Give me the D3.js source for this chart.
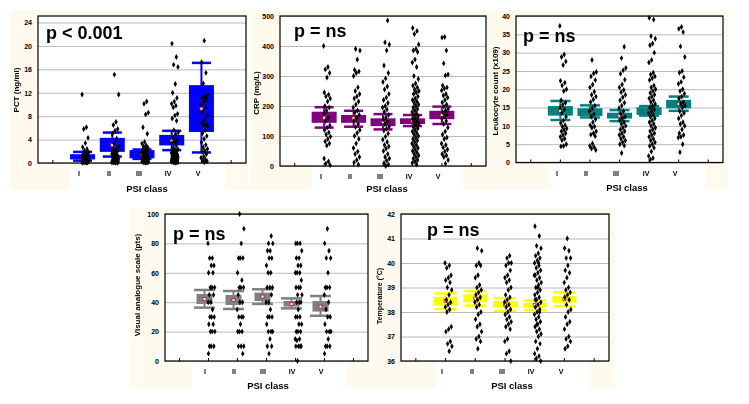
<!DOCTYPE html>
<html><head><meta charset="utf-8">
<script src="https://cdn.jsdelivr.net/npm/d3@7/dist/d3.min.js"></script>
<style>
body{margin:0;background:#fff}
svg{display:block}
text{font-family:"Liberation Sans",Arial,sans-serif;font-weight:bold;fill:#000}
</style>
</head><body>
<svg id="chart" width="749" height="404">
  <defs><filter id="gray" x="-20%" y="-20%" width="140%" height="140%"><feColorMatrix type="saturate" values="0"/></filter></defs>
</svg>
<script>
const categories = ["I","II","III","IV","V"];

// ---- PCT (ng/ml)
const pctTicks = [0,4,8,12,16,20,24];
const pctWhiskLow  = [0.4, 1.1, 0.7, 2.2, 1.8];
const pctBoxLow    = [0.6, 1.9, 0.8, 3.0, 5.3];
const pctCenter    = [1.1, 3.1, 1.5, 3.8, 9.3];
const pctBoxHigh   = [1.5, 4.3, 2.2, 4.8, 13.3];
const pctWhiskHigh = [1.9, 5.2, 2.3, 5.5, 17.1];
const pctPoints = [
  [11.7,6.1,5.8,4.3,3.4,2.7,2.4,2.1,1.8,1.6,1.4,1.3,1.2,1.1,1.0,0.9,0.9,0.8,0.7,0.6,0.6,0.5,0.5,0.4,0.4,0.3,0.3,0.3,0.2,0.2,0.2,0.1,0.1,0.1,0.05,0.05],
  [15.1,11.7,7.0,6.5,5.8,5.5,5.0,4.2,3.3,2.8,2.4,2.2,2.0,1.8,1.6,1.5,1.3,1.2,1.1,1.0,0.9,0.8,0.7,0.6,0.6,0.5,0.5,0.4,0.4,0.3,0.3,0.3,0.2,0.2,0.2,0.1,0.1,0.1,0.05,0.05],
  [10.5,10.1,8.6,8.3,6.1,5.0,3.6,3.3,3.0,2.8,2.6,2.4,2.3,2.2,2.0,1.9,1.8,1.6,1.5,1.4,1.3,1.2,1.1,1.0,1.0,0.9,0.8,0.8,0.7,0.7,0.6,0.6,0.5,0.5,0.4,0.4,0.3,0.3,0.3,0.2,0.2,0.2,0.1,0.1,0.1,0.05],
  [20.4,18.1,16.8,16.4,13.5,12.0,11.1,10.5,10.1,9.8,9.5,8.4,8.1,7.6,7.2,5.6,5.2,4.9,4.3,3.9,3.6,3.4,3.0,2.6,2.4,2.2,2.0,1.9,1.8,1.7,1.6,1.5,1.4,1.3,1.2,1.1,1.0,1.0,0.9,0.9,0.8,0.8,0.7,0.7,0.6,0.6,0.5,0.5,0.4,0.4,0.3,0.3,0.3,0.2,0.2,0.2,0.1,0.1,0.1,0.05],
  [20.9,17.2,15.4,13.6,11.6,11.3,11.1,10.9,10.4,9.9,9.4,8.7,8.1,7.4,6.9,6.6,6.4,6.2,5.6,5.1,4.6,4.1,3.5,3.1,2.7,2.4,2.1,1.9,1.5,1.1,0.9,0.6,0.4,0.3,0.1]
];

// ---- CRP (mg/L)
const crpTicks = [0,100,200,300,400,500];
const crpWhiskLow  = [128, 131, 122, 133, 140];
const crpBoxLow    = [144, 144, 133, 140, 156];
const crpCenter    = [161, 159, 147, 151, 170];
const crpBoxHigh   = [181, 170, 159, 159, 184];
const crpWhiskHigh = [196, 184, 173, 170, 198];
const crpPoints = [
  [400,330,322,310,295,245,238,232,225,215,200,195,185,175,160,150,135,128,120,112,105,98,90,82,75,68,25,15,8,3],
  [390,385,355,320,315,310,300,262,250,240,232,225,215,205,195,185,178,170,160,150,140,130,120,110,100,90,75,60,48,40,30,20,12,5],
  [485,412,405,385,335,310,292,280,265,255,240,228,220,210,200,195,188,180,170,162,155,148,140,132,125,118,108,98,88,80,70,65,58,50,40,30,25,18,10,5,0],
  [460,450,440,405,390,385,380,355,345,330,300,290,275,268,262,255,250,245,240,232,225,220,215,210,205,200,195,190,185,180,175,170,165,160,155,150,145,140,135,130,125,120,115,110,105,100,95,90,85,80,75,70,65,60,55,50,45,40,35,30,25,20,15,10,5],
  [430,428,385,342,305,302,268,262,258,252,240,235,228,220,212,205,198,190,185,178,172,165,158,150,140,128,115,105,95,90,75,70,62,55,48,40,35,30,20,8]
];

// ---- Leukocyte count (x109)
const wbcTicks = [0,5,10,15,20,25,30,35,40];
const wbcWhiskLow  = [11.6, 12.3, 11.3, 12.8, 14.1];
const wbcBoxLow    = [12.8, 12.7, 12.0, 13.0, 14.8];
const wbcCenter    = [14.1, 13.8, 12.8, 13.9, 16.0];
const wbcBoxHigh   = [15.4, 14.8, 13.6, 15.1, 17.1];
const wbcWhiskHigh = [16.8, 15.6, 14.3, 15.4, 18.0];
const wbcPoints = [
  [37.3,29.5,28.8,27.6,26.6,22.3,21.8,21.0,20.0,19.5,17.0,16.3,15.8,15.0,14.5,13.5,12.5,11.5,10.8,10.2,9.8,9.3,8.9,8.5,8.0,7.5,7.0,6.5,6.1,5.0,4.5,4.4],
  [28.0,24.7,24.3,23.5,22.5,21.3,20.5,19.3,18.5,18.0,17.2,16.5,15.5,14.8,14.0,13.2,12.5,11.8,11.0,10.2,9.8,9.5,8.5,8.0,7.6,7.2,5.2,4.5,4.2,3.8,3.4],
  [31.6,28.5,25.8,25.2,24.2,22.6,21.3,20.5,19.8,19.2,18.5,17.8,17.0,16.3,15.5,14.8,14.0,13.3,12.5,12.0,11.5,11.0,10.5,10.0,9.5,9.0,8.5,8.0,7.5,7.0,6.5,6.0,5.5,5.0,4.6,2.6],
  [39.5,39.0,34.5,33.8,32.5,32.0,30.0,28.0,27.3,24.5,24.0,23.5,23.0,22.5,21.0,20.5,20.0,19.5,19.0,18.5,18.0,17.5,17.0,16.5,16.0,15.5,15.0,14.5,14.0,13.5,13.0,12.5,12.0,11.5,11.0,10.5,10.0,9.5,9.0,8.5,8.0,7.5,7.0,6.5,6.0,5.5,5.0,4.5,4.0,3.0,1.8,1.2,0.8],
  [37.0,36.5,35.6,31.7,28.8,25.0,24.5,23.3,22.0,21.5,20.0,19.5,18.8,18.0,17.5,16.5,16.0,15.5,15.0,14.0,13.5,12.8,12.0,11.0,10.5,10.0,9.0,8.0,7.5,7.0,6.8,5.0,2.8]
];

// ---- Visual analogue scale (pts)
const vasTicks = [0,20,40,60,80,100];
const vasWhiskLow  = [36.3, 35.4, 38.8, 35.8, 30.8];
const vasBoxLow    = [38.8, 38.1, 40.8, 37.0, 33.6];
const vasCenter    = [42.2, 41.5, 43.8, 38.8, 37.0];
const vasBoxHigh   = [45.6, 44.9, 46.5, 40.8, 40.8];
const vasWhiskHigh = [48.3, 47.6, 48.8, 42.6, 44.2];
const vasPoints = [
  [80,70,70,65,65,60,60,50,50,50,45,45,40,40,35,30,30,30,25,25,20,20,20,10,10,10,5],
  [100,90,80,70,70,70,60,55,50,50,50,45,40,40,35,30,30,30,25,20,20,20,10,10,10,5],
  [85,80,80,75,75,70,70,65,60,60,50,50,50,45,40,40,35,30,30,30,25,20,20,20,15,10,10,5],
  [80,80,80,75,70,70,65,65,60,60,60,55,50,50,50,45,45,40,40,40,35,30,30,30,25,25,20,20,20,15,15,14,10,10,10,10,0],
  [90,80,75,70,70,60,50,50,50,45,40,35,30,30,25,20,20,20,15,10,10,10,5]
];

// ---- Temperature (°C)
const tempTicks = [36,37,38,39,40,41,42];
const tempWhiskLow  = [38.12, 38.26, 38.04, 38.08, 38.24];
const tempBoxLow    = [38.26, 38.40, 38.18, 38.18, 38.38];
const tempCenter    = [38.45, 38.55, 38.31, 38.29, 38.52];
const tempBoxHigh   = [38.62, 38.72, 38.45, 38.38, 38.65];
const tempWhiskHigh = [38.76, 38.86, 38.56, 38.47, 38.80];
const tempPoints = [
  [40.0,39.9,39.8,39.5,39.4,39.3,39.2,39.0,38.9,38.7,38.5,38.4,38.3,38.2,38.1,38.0,37.4,37.3,37.2,36.8,36.7,36.6,36.4],
  [40.6,40.5,40.0,39.9,39.9,39.5,39.4,39.1,39.0,38.9,38.8,38.7,38.6,38.5,38.4,38.3,38.2,38.0,37.9,37.7,37.5,37.4,37.2,37.0,36.9,36.8,36.5],
  [40.3,40.2,40.0,40.0,39.9,39.7,39.5,39.4,39.3,39.2,39.0,38.9,38.7,38.6,38.5,38.4,38.3,38.2,38.1,38.0,37.9,37.8,37.7,37.6,37.5,37.4,37.3,36.9,36.8,36.4,36.3,36.0],
  [41.5,41.1,40.7,40.6,40.4,40.3,40.2,40.1,40.0,39.9,39.8,39.7,39.6,39.5,39.4,39.3,39.2,39.1,39.0,38.9,38.8,38.7,38.6,38.5,38.4,38.3,38.2,38.1,38.0,37.9,37.8,37.7,37.6,37.5,37.4,37.3,37.2,37.1,37.0,36.8,36.7,36.5,36.3,36.2,36.1,36.0,39.0,38.5,38.0,37.5,39.5,40.0],
  [41.0,40.6,40.5,40.2,40.2,39.9,39.7,39.6,39.4,39.2,39.0,38.9,38.8,38.7,38.6,38.5,38.3,38.1,38.0,37.8,37.6,37.5,37.3,37.0,36.9,36.8,36.6,36.5]
];

const pLabels = ["p < 0.001","p = ns","p = ns","p = ns","p = ns"];
const yTitles = ["PCT (ng/ml)","CRP (mg/L)","Leukocyte count (x109)","Visual analogue scale (pts)","Temperature (°C)"];
const xTitle = "PSI class";

// ---- layout (positions & styles only)
const panels = [
  {ticks:pctTicks, wl:pctWhiskLow, bl:pctBoxLow, c:pctCenter, bh:pctBoxHigh, wh:pctWhiskHigh, pts:pctPoints,
   color:"#0000ff", bg:[10,10,248,190], lab:[70,166,225,190], fr:[38,16,246,163], yr:[163,22.5],
   tx:17, ty:90, px:46, py:39, xt:147, xty:192, boxW:25, capW:19, boxShift:0, tfs:8},
  {ticks:crpTicks, wl:crpWhiskLow, bl:crpBoxLow, c:crpCenter, bh:crpBoxHigh, wh:crpWhiskHigh, pts:crpPoints,
   color:"#800080", bg:[250,10,488,190], lab:[312,166,463,190], fr:[280,16,486,166], yr:[166,16],
   tx:257, ty:93, px:294, py:37, xt:387, xty:192, boxW:25, capW:19, boxShift:0, tfs:8},
  {ticks:wbcTicks, wl:wbcWhiskLow, bl:wbcBoxLow, c:wbcCenter, bh:wbcBoxHigh, wh:wbcWhiskHigh, pts:wbcPoints,
   color:"#008080", bg:[488,10,728,189], lab:[551,165,705,189], fr:[516,16,723,162.5], yr:[162.5,16],
   tx:496, ty:91, px:523, py:42, xt:627, xty:191, boxW:25, capW:20, boxShift:0, tfs:8},
  {ticks:vasTicks, wl:vasWhiskLow, bl:vasBoxLow, c:vasCenter, bh:vasBoxHigh, wh:vasWhiskHigh, pts:vasPoints,
   color:"#808080", bg:[130,208,370,388], lab:[192,363,347,388], fr:[165,214,368,361], yr:[361,214],
   tx:138, ty:285, px:173, py:240, xt:268, xty:389, boxW:16, capW:21, boxShift:-4, tfs:8},
  {ticks:tempTicks, wl:tempWhiskLow, bl:tempBoxLow, c:tempCenter, bh:tempBoxHigh, wh:tempWhiskHigh, pts:tempPoints,
   color:"#ffff00", bg:[370,208,615,388], lab:[435,363,590,388], fr:[401,214,609,361], yr:[361,214],
   tx:380, ty:296, px:427, py:236, xt:512, xty:389, boxW:24, capW:22, boxShift:0, tfs:7}
];

const svg = d3.select("#chart");
const cream = "#fff9ee";
const diamond = d3.symbol().type(d3.symbolDiamond).size(10);

panels.forEach((p, pi) => {
  const g = svg.append("g");
  const [l,t,r,b] = p.fr;
  const x = d3.scalePoint().domain(["_s", ...categories, "_e"]).range([l, r]).padding(0.5);
  const y = d3.scaleLinear().domain([p.ticks[0], p.ticks[p.ticks.length-1]]).range(p.yr);

  g.append("rect").attr("x",p.bg[0]).attr("y",p.bg[1]).attr("width",p.bg[2]-p.bg[0]).attr("height",p.bg[3]-p.bg[1]).attr("fill",cream);
  g.append("rect").attr("x",p.lab[0]).attr("y",p.lab[1]).attr("width",p.lab[2]-p.lab[0]).attr("height",p.lab[3]-p.lab[1]).attr("fill","#fff");
  g.append("rect").attr("x",l).attr("y",t).attr("width",r-l).attr("height",b-t).attr("fill","#fff");

  // gridlines + y tick labels
  const ax = g.append("g").attr("transform",`translate(${l},0)`)
    .call(d3.axisLeft(y).tickValues(p.ticks).tickSize(-(r-l)).tickPadding(6).tickFormat(d3.format("d")));
  ax.select(".domain").remove();
  ax.selectAll(".tick line").attr("stroke","#b9b9b9").attr("stroke-width",1);
  ax.selectAll(".tick text").attr("font-size",7).attr("font-family",null).attr("fill","#000")
    .style("font-family","'Liberation Sans',Arial,sans-serif").style("font-weight","bold");

  // boxes
  const col = g.append("g");
  categories.forEach((cat, i) => {
    const cx = x(cat) + p.boxShift;
    col.append("line").attr("x1",cx).attr("x2",cx).attr("y1",y(p.wl[i])).attr("y2",y(p.wh[i]))
      .attr("stroke",p.color).attr("stroke-width",2);
    [p.wl[i], p.wh[i]].forEach(v => col.append("line")
      .attr("x1",cx-p.capW/2).attr("x2",cx+p.capW/2).attr("y1",y(v)).attr("y2",y(v))
      .attr("stroke",p.color).attr("stroke-width",2.5));
    col.append("rect").attr("x",cx-p.boxW/2).attr("width",p.boxW)
      .attr("y",y(p.bh[i])).attr("height",y(p.bl[i])-y(p.bh[i])).attr("fill",p.color);
    col.append("rect").attr("x",cx-1.5).attr("y",y(p.c[i])-1.5).attr("width",3).attr("height",3)
      .attr("fill","#fff").attr("stroke","#c00000").attr("stroke-width",0.7);
  });

  // points
  const pg = g.append("g");
  categories.forEach((cat, i) => {
    p.pts[i].forEach((v, j) => {
      const jit = ((j * 0.6180339 + i * 0.37) % 1) * 7 - 0.5;
      pg.append("path").attr("d", diamond)
        .attr("transform",`translate(${x(cat)+jit},${y(v)})`).attr("fill","#000");
    });
  });

  // frame
  g.append("rect").attr("x",l).attr("y",t).attr("width",r-l).attr("height",b-t)
    .attr("fill","none").attr("stroke","#000").attr("stroke-width",1.2);
  // bottom inside ticks
  x.domain().forEach(d => g.append("line").attr("x1",x(d)).attr("x2",x(d)).attr("y1",b).attr("y2",b-3)
    .attr("stroke","#000").attr("stroke-width",1));

  // text (grayscale-filtered to avoid colour fringes)
  const tg = g.append("g").attr("filter","url(#gray)");
  categories.forEach(cat => tg.append("text").attr("x",Math.round(x(cat)-3.5)).attr("y",b+13)
    .attr("text-anchor","middle").attr("font-size",7).text(cat));
  tg.append("text").attr("transform",`translate(${p.tx},${p.ty}) rotate(-90)`)
    .attr("text-anchor","middle").attr("dominant-baseline","middle").attr("font-size",p.tfs).text(yTitles[pi]);
  tg.append("text").attr("x",p.xt).attr("y",p.xty).attr("text-anchor","middle").attr("font-size",9.5).text(xTitle);
  tg.append("text").attr("x",p.px).attr("y",p.py).attr("font-size",18).text(pLabels[pi]);
});
</script>
</body></html>
